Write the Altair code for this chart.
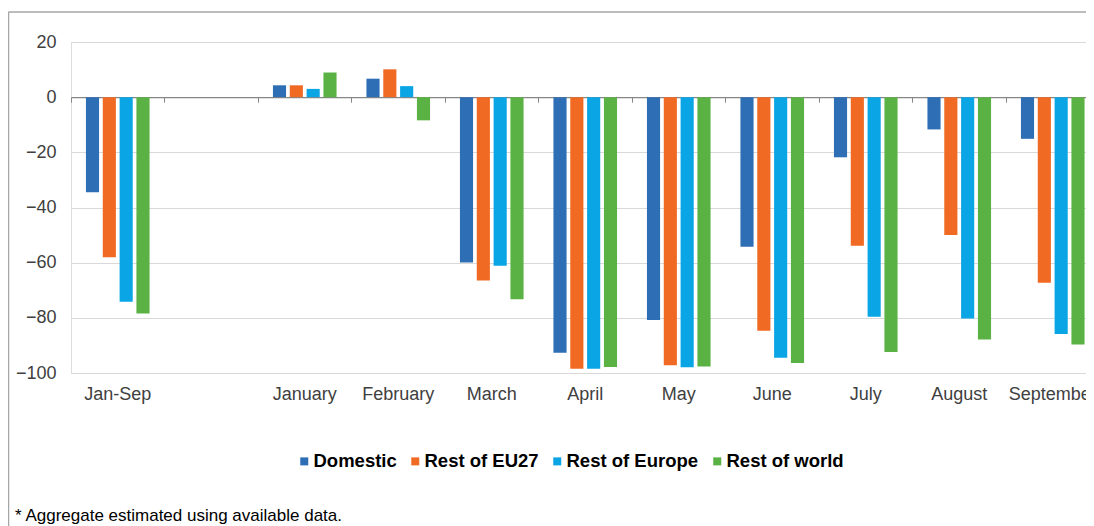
import altair as alt
import pandas as pd

# ---- data ----
categories = ["Jan-Sep", " ", "January", "February", "March", "April", "May",
              "June", "July", "August", "September"]
months = ["Jan-Sep", "January", "February", "March", "April", "May",
          "June", "July", "August", "September"]
series = ["Domestic", "Rest of EU27", "Rest of Europe", "Rest of world"]
domestic = [-34.5, 4.3, 6.7, -59.9, -92.7, -80.8, -54.2, -21.8, -11.7, -15.1]
rest_eu27 = [-58.0, 4.3, 10.1, -66.5, -98.5, -97.2, -84.7, -53.9, -50.0, -67.3]
rest_europe = [-74.2, 3.0, 4.0, -61.1, -98.5, -97.9, -94.5, -79.6, -80.2, -85.9]
rest_world = [-78.4, 8.9, -8.4, -73.3, -97.8, -97.6, -96.4, -92.4, -87.9, -89.7]
colors = ["#2E6EB5", "#F06A23", "#0AA5E5", "#5BB244"]
y_ticks = [20, 0, -20, -40, -60, -80, -100]
footnote = "* Aggregate estimated using available data."

rows = []
for s, vals in zip(series, [domestic, rest_eu27, rest_europe, rest_world]):
    for m, v in zip(months, vals):
        rows.append({"month": m, "series": s, "value": v})
df = pd.DataFrame(rows)

FONT = "Liberation Sans"

bars = alt.Chart(df).mark_bar().encode(
    x=alt.X(
        "month:N",
        sort=categories,
        scale=alt.Scale(domain=categories, range=[0, 1028.5],
                        paddingInner=0.28, paddingOuter=0.14),
        axis=alt.Axis(title=None, offset=-275.8, labelPadding=283, tickSize=5,
                      tickColor="#868686", domainColor="#868686", domainWidth=1.2,
                      bandPosition=-0.1944, labelFontSize=18, labelColor="#404040",
                      labelFont=FONT, labelAngle=0, grid=False),
    ),
    xOffset=alt.XOffset("series:N", sort=series,
                        scale=alt.Scale(domain=series, paddingInner=0.22, paddingOuter=0.11)),
    y=alt.Y(
        "value:Q",
        scale=alt.Scale(domain=[-100, 20], nice=False, zero=False),
        axis=alt.Axis(title=None, values=y_ticks, grid=True, gridColor="#d9d9d9",
                      domain=False, ticks=False, labelPadding=15, labelFontSize=18,
                      labelColor="#404040", labelFont=FONT),
    ),
    color=alt.Color(
        "series:N", sort=series,
        scale=alt.Scale(domain=series, range=colors),
        legend=alt.Legend(title=None, orient="none", legendX=224, legendY=410,
                          direction="horizontal", symbolType="square", symbolSize=64,
                          symbolStrokeWidth=0,
                          labelFontSize=18.5, labelFontWeight="bold", labelColor="#000000",
                          labelFont=FONT, columnPadding=9, labelOffset=0),
    ),
)

one = pd.DataFrame({"a": [0]})
frame_left = alt.Chart(one).mark_rule(color="#a6a6a6", strokeWidth=1.5).encode(
    x=alt.value(-62.5), y=alt.value(-30), y2=alt.value(515))
frame_top = alt.Chart(one).mark_rule(color="#a6a6a6", strokeWidth=1.5).encode(
    x=alt.value(-62.5), x2=alt.value(1015), y=alt.value(-30))

note = alt.Chart(pd.DataFrame({"t": [footnote]})).mark_text(
    align="left", baseline="middle", fontSize=17, color="#000000", font=FONT
).encode(x=alt.value(-56), y=alt.value(474), text="t:N")

chart = alt.layer(frame_left, frame_top, bars, note).properties(
    width=1015, height=331,
    padding={"left": 63, "top": 34, "right": 0, "bottom": 184},
    autosize=alt.AutoSizeParams(type="none"),
).configure_view(stroke="transparent").configure(font=FONT)

chart.save("out.html", embed_options={"renderer": "svg", "actions": False})
